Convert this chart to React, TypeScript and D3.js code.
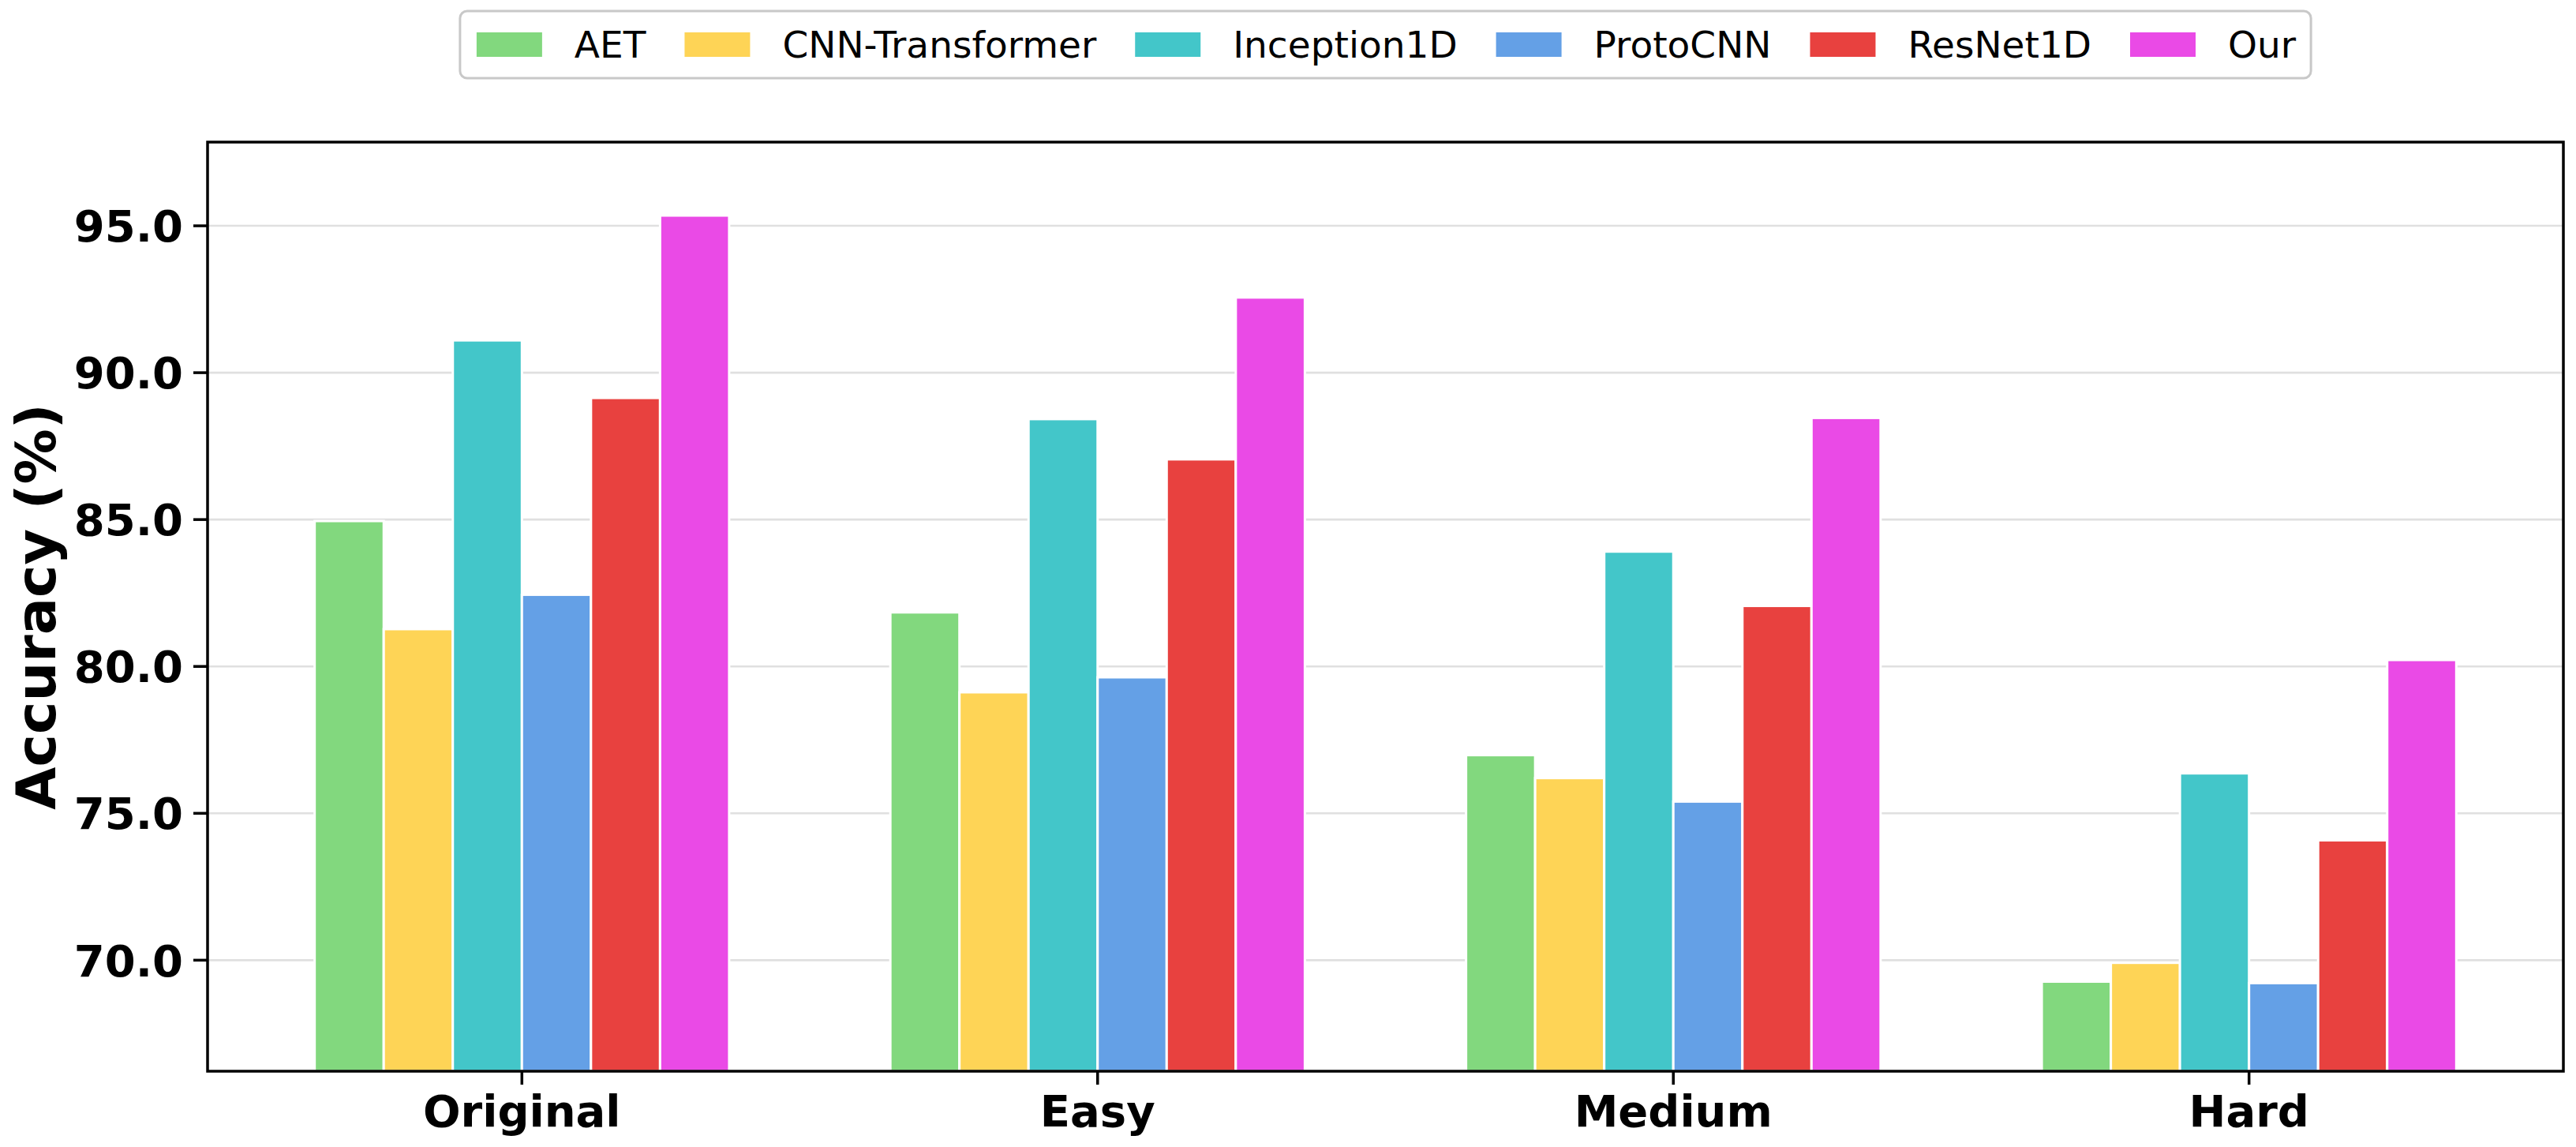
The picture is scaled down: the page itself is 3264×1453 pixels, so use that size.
import React, { useMemo } from "react";
import * as d3 from "d3";

const categories = ["Original", "Easy", "Medium", "Hard"];
const seriesNames = ["AET", "CNN-Transformer", "Inception1D", "ProtoCNN", "ResNet1D", "Our"];
const seriesColors = ["#82d87e", "#fed456", "#43c6c9", "#64a0e6", "#e8413f", "#ea4ae6"];
const aet = [84.95, 81.84, 76.98, 69.27];
const cnnTransformer = [81.27, 79.12, 76.2, 69.91];
const inception1d = [91.1, 88.42, 83.91, 76.36];
const protoCnn = [82.44, 79.63, 75.4, 69.22];
const resnet1d = [89.14, 87.05, 82.06, 74.08];
const our = [95.35, 92.56, 88.46, 80.22];
const seriesValues = [aet, cnnTransformer, inception1d, protoCnn, resnet1d, our];
const yTicks = [70, 75, 80, 85, 90, 95];

const W = 3264;
const H = 1453;
const FONT = "'DejaVu Sans', sans-serif";

export default function App() {
  const barW = 0.12;
  const n = seriesNames.length;
  const all = seriesValues.flat();
  const yMin = (d3.min(all) as number) - 3;
  const yMax = (d3.max(all) as number) + 2.5;

  const plot = { left: 263, right: 3248, top: 180, bottom: 1357 };
  const half = (n * barW) / 2;
  const span = categories.length - 1 + 2 * half;
  const marg = span * 0.05;
  const x = d3
    .scaleLinear()
    .domain([-half - marg, categories.length - 1 + half + marg])
    .range([plot.left, plot.right]);
  const y = d3.scaleLinear().domain([yMin, yMax]).range([plot.bottom, plot.top]);
  const bw = x(barW) - x(0);

  const legendFont = 47;
  const textWidths = useMemo(() => {
    const c = document.createElement("canvas");
    const ctx = c.getContext("2d")!;
    ctx.font = `${legendFont}px 'DejaVu Sans'`;
    return seriesNames.map((s) => ctx.measureText(s).width);
  }, []);
  const patchW = 83;
  const patchH = 31;
  const patchGap = 41;
  const colGap = 49;
  const padL = 21;
  const padR = 19;
  const legendW =
    padL + padR + d3.sum(textWidths) + n * (patchW + patchGap) + (n - 1) * colGap;
  const legendCx = (plot.left + plot.right) / 2;
  const legendX = legendCx - legendW / 2;
  const legendTop = 14;
  const legendBottom = 99;
  const legendCy = (legendTop + legendBottom) / 2;
  const entryX: number[] = [];
  {
    let cx = legendX + padL;
    for (let i = 0; i < n; i++) {
      entryX.push(cx);
      cx += patchW + patchGap + textWidths[i] + colGap;
    }
  }

  return (
    <svg
      width={W}
      height={H}
      viewBox={`0 0 ${W} ${H}`}
      style={{ position: "absolute", left: 0, top: 0, background: "#fff" }}
      fontFamily={FONT}
    >
      <rect x={0} y={0} width={W} height={H} fill="#fff" />
      {/* grid */}
      {yTicks.map((t) => (
        <line
          key={"g" + t}
          x1={plot.left}
          x2={plot.right}
          y1={y(t)}
          y2={y(t)}
          stroke="#e0e0e0"
          strokeWidth={2.6}
        />
      ))}
      {/* bars */}
      {seriesValues.map((vals, si) =>
        vals.map((v, ci) => {
          const cx = ci + (si - (n - 1) / 2) * barW;
          const x0 = x(cx) - bw / 2;
          return (
            <rect
              key={`b${si}-${ci}`}
              x={x0}
              y={y(v)}
              width={bw}
              height={plot.bottom - y(v)}
              fill={seriesColors[si]}
              stroke="#ffffff"
              strokeWidth={3}
            />
          );
        })
      )}
      {/* y ticks */}
      {yTicks.map((t) => (
        <g key={"yt" + t}>
          <line x1={plot.left - 18} x2={plot.left} y1={y(t)} y2={y(t)} stroke="#000" strokeWidth={3.5} />
          <text
            x={plot.left - 31}
            y={y(t)}
            dy="0.36em"
            textAnchor="end"
            fontSize={56}
            fontWeight="bold"
            fill="#000"
          >
            {t.toFixed(1)}
          </text>
        </g>
      ))}
      {/* x ticks */}
      {categories.map((c, i) => (
        <g key={"xt" + c}>
          <line x1={x(i)} x2={x(i)} y1={plot.bottom} y2={plot.bottom + 17} stroke="#000" strokeWidth={3.5} />
          <text x={x(i)} y={1427} textAnchor="middle" fontSize={56} fontWeight="bold" fill="#000">
            {c}
          </text>
        </g>
      ))}
      {/* spines */}
      <rect
        x={plot.left}
        y={plot.top}
        width={plot.right - plot.left}
        height={plot.bottom - plot.top}
        fill="none"
        stroke="#000"
        strokeWidth={3.5}
      />
      {/* y label */}
      <text
        transform={`translate(70, ${(plot.top + plot.bottom) / 2}) rotate(-90)`}
        textAnchor="middle"
        fontSize={70}
        fontWeight="bold"
        fill="#000"
      >
        Accuracy (%)
      </text>
      {/* legend */}
      <rect
        x={legendX}
        y={legendTop}
        width={legendW}
        height={legendBottom - legendTop}
        rx={9}
        ry={9}
        fill="#fff"
        stroke="#c8c8c8"
        strokeWidth={3}
      />
      {seriesNames.map((s, i) => (
        <g key={"lg" + s}>
          <rect x={entryX[i]} y={legendCy - patchH / 2} width={patchW} height={patchH} fill={seriesColors[i]} />
          <text
            x={entryX[i] + patchW + patchGap}
            y={legendCy}
            dy="0.36em"
            fontSize={legendFont}
            fill="#000"
          >
            {s}
          </text>
        </g>
      ))}
    </svg>
  );
}
